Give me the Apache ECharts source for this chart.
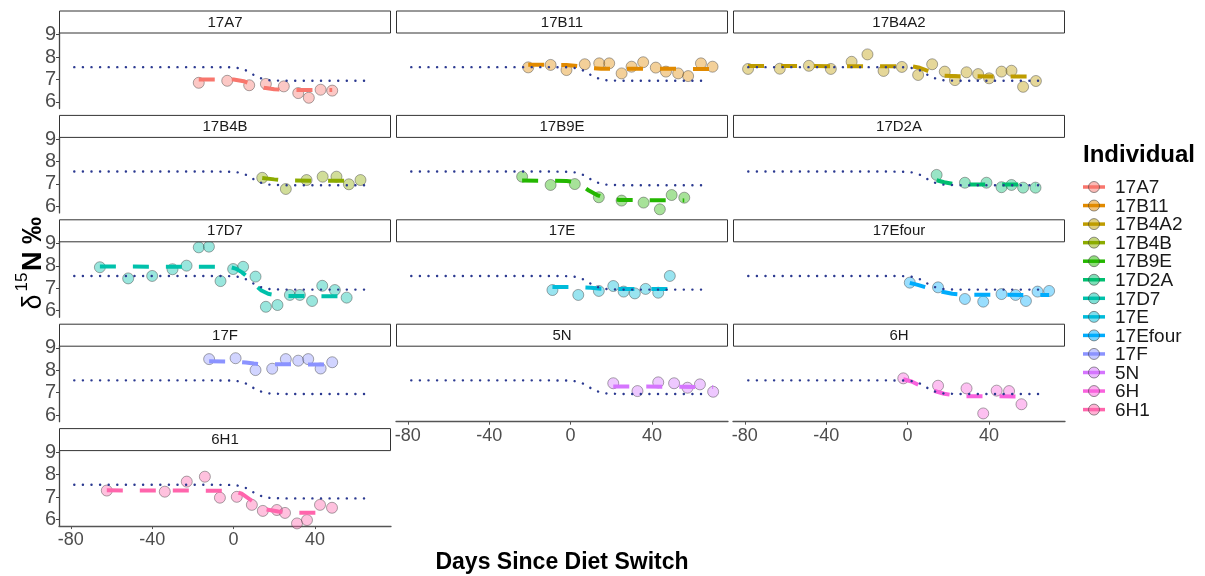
<!DOCTYPE html>
<html>
<head>
<meta charset="utf-8">
<script src="https://cdn.jsdelivr.net/npm/echarts@6/dist/echarts.min.js"></script>
<style>
  html, body { margin: 0; padding: 0; background: #ffffff; }
  #chart { width: 1205px; height: 576px; }
</style>
</head>
<body>
<div id="chart"></div>
<script>
// Individuals in facet order, with their palette (ggplot default hues)
const individuals = ['17A7', '17B11', '17B4A2', '17B4B', '17B9E', '17D2A', '17D7',
  '17E', '17Efour', '17F', '5N', '6H', '6H1'];
const palette = ['#F8766D', '#E18A00', '#BE9C00', '#8CAB00', '#24B700', '#00BE70', '#00C1AB',
  '#00BBDA', '#00ACFC', '#8B93FF', '#D575FE', '#F962DD', '#FF65AC'];

// Axis ticks
const xTicks = [-80, -40, 0, 40];
const yTicks = [6, 7, 8, 9];

// Population-level curve: [days since switch, d15N]
const popCurve = [[-78.3, 7.55], [-10, 7.55], [0, 7.54], [3, 7.50], [6, 7.41], [9, 7.25],
  [12, 7.10], [15, 7.00], [18, 6.96], [24, 6.94], [67.8, 6.94]];

// Observations per individual: [days since switch, d15N]
const pts_17A7 = [[-17.1, 6.85], [-3.1, 6.94], [7.7, 6.74], [15.9, 6.80], [24.7, 6.69],
  [31.8, 6.39], [37.0, 6.18], [42.8, 6.54], [48.5, 6.50]];
const pts_17B11 = [[-20.8, 7.54], [-9.8, 7.65], [-2.0, 7.42], [7.0, 7.68], [14.1, 7.72],
  [19.0, 7.72], [25.1, 7.27], [30.0, 7.57], [35.7, 7.77], [41.9, 7.53], [46.9, 7.35],
  [52.9, 7.27], [57.8, 7.15], [64.1, 7.72], [69.8, 7.57]];
const pts_17B4A2 = [[-78.4, 7.47], [-62.8, 7.48], [-48.5, 7.61], [-37.7, 7.47], [-27.5, 7.79],
  [-19.7, 8.12], [-11.8, 7.38], [-2.8, 7.56], [5.2, 7.20], [12.1, 7.68], [18.3, 7.35],
  [23.3, 6.97], [29.0, 7.32], [34.7, 7.24], [40.1, 7.05], [46.2, 7.35], [51.1, 7.39],
  [56.8, 6.67], [63.1, 6.93]];
const pts_17B4B = [[14.1, 7.27], [25.7, 6.77], [35.9, 7.17], [43.8, 7.32], [50.6, 7.32],
  [56.7, 6.98], [62.4, 7.17]];
const pts_17B9E = [[-23.8, 7.32], [-9.8, 6.95], [2.1, 6.99], [13.9, 6.40], [25.1, 6.25],
  [35.9, 6.16], [43.9, 5.86], [49.7, 6.50], [55.9, 6.38]];
const pts_17D2A = [[14.3, 7.40], [28.2, 7.05], [38.8, 7.05], [46.2, 6.85], [51.1, 6.95],
  [56.8, 6.83], [62.9, 6.83]];
const pts_17D7 = [[-65.7, 7.94], [-51.8, 7.44], [-40.0, 7.55], [-30.0, 7.85], [-23.1, 8.01],
  [-17.1, 8.83], [-12.1, 8.86], [-6.4, 7.32], [-0.2, 7.86], [4.7, 7.96], [10.8, 7.52],
  [15.9, 6.17], [21.6, 6.25], [27.7, 6.70], [32.6, 6.70], [38.6, 6.43], [43.6, 7.11],
  [49.8, 6.92], [55.6, 6.58]];
const pts_17E = [[-8.9, 6.92], [3.8, 6.70], [13.9, 6.88], [21.0, 7.10], [26.1, 6.85],
  [31.6, 6.77], [36.9, 6.97], [43.1, 6.80], [48.8, 7.55]];
const pts_17Efour = [[1.1, 7.25], [15.0, 7.04], [28.2, 6.52], [37.2, 6.40], [46.2, 6.74],
  [53.1, 6.70], [58.2, 6.43], [63.9, 6.85], [69.6, 6.88]];
const pts_17F = [[-12.0, 8.50], [1.0, 8.54], [10.8, 8.01], [19.0, 8.07], [25.7, 8.50],
  [31.8, 8.43], [36.7, 8.50], [42.8, 8.08], [48.5, 8.36]];
const pts_5N = [[21.0, 7.42], [32.9, 7.07], [43.1, 7.46], [50.9, 7.42], [57.5, 7.22],
  [63.6, 7.37], [70.1, 7.04]];
const pts_6H = [[-2.1, 7.64], [15.0, 7.31], [29.0, 7.19], [37.2, 6.07], [43.8, 7.09],
  [49.9, 7.07], [56.0, 6.48]];
const pts_6H1 = [[-62.3, 7.29], [-33.8, 7.24], [-23.0, 7.69], [-14.1, 7.91], [-6.7, 6.97],
  [1.6, 7.01], [9.0, 6.65], [14.4, 6.38], [21.3, 6.42], [25.3, 6.29], [31.2, 5.82],
  [36.1, 5.97], [42.5, 6.65], [48.4, 6.52]];

// Fitted individual curves: [days since switch, d15N]
const fit_17A7 = [[-17.1, 7.00], [0, 7.00], [5, 6.92], [10, 6.76], [15, 6.63], [20, 6.56],
  [30, 6.53], [48.5, 6.53]];
const fit_17B11 = [[-20.8, 7.66], [-2, 7.65], [5, 7.58], [10, 7.51], [15, 7.48], [69.8, 7.47]];
const fit_17B4A2 = [[-78.4, 7.60], [2, 7.59], [6, 7.52], [10, 7.38], [14, 7.25], [18, 7.17],
  [25, 7.14], [63.1, 7.13]];
const fit_17B4B = [[14.1, 7.26], [20, 7.20], [25, 7.15], [62.4, 7.13]];
const fit_17B9E = [[-23.8, 7.15], [-2, 7.13], [3, 7.07], [6, 6.90], [9, 6.70], [13, 6.50],
  [17, 6.37], [24, 6.28], [55.9, 6.26]];
const fit_17D2A = [[14.3, 7.16], [18, 7.07], [23, 6.99], [30, 6.97], [62.9, 6.97]];
const fit_17D7 = [[-65.7, 7.97], [-2, 7.96], [1, 7.88], [4, 7.72], [7.7, 7.44], [10, 7.20],
  [13.7, 6.90], [17, 6.75], [22, 6.67], [30, 6.65], [55.6, 6.64]];
const fit_17E = [[-8.9, 7.06], [3, 7.05], [10, 7.02], [15, 6.98], [20, 6.97], [48.8, 6.97]];
const fit_17Efour = [[1.1, 7.24], [5, 7.15], [9, 7.04], [13, 6.93], [17, 6.84], [22, 6.75],
  [28, 6.71], [69.6, 6.70]];
const fit_17F = [[-12.0, 8.40], [2, 8.38], [6, 8.35], [10, 8.30], [14, 8.27], [48.5, 8.26]];
const fit_5N = [[21.0, 7.28], [70.1, 7.25]];
const fit_6H = [[-2.1, 7.60], [2, 7.50], [6, 7.32], [10, 7.17], [14.6, 7.04], [18, 6.95],
  [22, 6.89], [28, 6.84], [56.0, 6.83]];
const fit_6H1 = [[-62.3, 7.30], [0, 7.28], [4, 7.15], [8, 6.90], [12, 6.62], [16, 6.45],
  [22, 6.35], [30, 6.30], [48.4, 6.30]];

const observations = [pts_17A7, pts_17B11, pts_17B4A2, pts_17B4B, pts_17B9E, pts_17D2A,
  pts_17D7, pts_17E, pts_17Efour, pts_17F, pts_5N, pts_6H, pts_6H1];
const fits = [fit_17A7, fit_17B11, fit_17B4A2, fit_17B4B, fit_17B9E, fit_17D2A, fit_17D7,
  fit_17E, fit_17Efour, fit_17F, fit_5N, fit_6H, fit_6H1];

// ---- layout of the facet grid (pixels) ----
const FONT = '"Liberation Sans", Arial, Helvetica, sans-serif';
const colLeft = [59, 396, 733];
const panelW = 332;
const stripTop0 = 10.5, rowPitch = 104.4, stripH = 22, plotH = 76;
const nCols = 3;
const lastRow = [4, 3, 3]; // bottom facet in each column carries the x axis

function rgba(hex, a) {
  const n = parseInt(hex.slice(1), 16);
  return 'rgba(' + ((n >> 16) & 255) + ',' + ((n >> 8) & 255) + ',' + (n & 255) + ',' + a + ')';
}

const grids = [], xAxes = [], yAxes = [], series = [], graphics = [];

individuals.forEach((name, i) => {
  const row = Math.floor(i / nCols), col = i % nCols;
  const stripTop = stripTop0 + row * rowPitch;
  const plotTop = stripTop + stripH;
  const showX = row === lastRow[col];
  const showY = col === 0;

  grids.push({ left: colLeft[col], top: plotTop, width: panelW, height: plotH, containLabel: false });

  xAxes.push({
    type: 'value', gridIndex: i, min: -85.8, max: 77.4,
    splitLine: { show: false },
    axisLine: { show: showX, onZero: false, lineStyle: { color: '#555', width: 1.3 } },
    axisTick: { show: showX, length: 3, customValues: xTicks, lineStyle: { color: '#555' } },
    axisLabel: { show: showX, customValues: xTicks, color: '#4d4d4d', fontSize: 18,
      fontFamily: FONT, margin: 5 }
  });
  yAxes.push({
    type: 'value', gridIndex: i, min: 5.7, max: 9.1,
    splitLine: { show: false },
    axisLine: { show: showY, onZero: false, lineStyle: { color: '#444', width: 1.3 } },
    axisTick: { show: showY, length: 3, customValues: yTicks, lineStyle: { color: '#444' } },
    axisLabel: { show: showY, customValues: yTicks, color: '#4d4d4d', fontSize: 20,
      fontFamily: FONT, margin: 3 }
  });

  const c = palette[i];
  series.push({
    type: 'scatter', name: name, xAxisIndex: i, yAxisIndex: i,
    data: observations[i], symbol: 'circle', symbolSize: 11, silent: true, z: 2,
    itemStyle: { color: rgba(c, 0.5), borderColor: 'rgba(60,60,60,0.55)', borderWidth: 1 }
  });
  series.push({
    type: 'line', name: name + ' fit', xAxisIndex: i, yAxisIndex: i,
    data: fits[i], showSymbol: false, symbol: 'none', silent: true, z: 3,
    lineStyle: { color: c, width: 4, type: [16, 17], cap: 'butt' }
  });
  series.push({
    type: 'line', name: 'population', xAxisIndex: i, yAxisIndex: i,
    data: popCurve, showSymbol: false, symbol: 'none', silent: true, z: 4,
    lineStyle: { color: '#2B3990', width: 2.4, type: [0.1, 8.5], cap: 'round' }
  });

  // facet strip
  graphics.push({
    type: 'rect', silent: true, z: 10,
    shape: { x: colLeft[col] + 0.5, y: stripTop + 0.5, width: panelW - 1, height: stripH },
    style: { fill: '#ffffff', stroke: '#333333', lineWidth: 1 }
  });
  graphics.push({
    type: 'text', silent: true, z: 11,
    x: colLeft[col] + panelW / 2, y: stripTop + stripH / 2 + 1,
    style: { text: name, fill: '#1a1a1a', font: '15px ' + FONT, align: 'center', verticalAlign: 'middle' }
  });
});

// axis titles
graphics.push({
  type: 'text', silent: true, x: 562, y: 563,
  style: { text: 'Days Since Diet Switch', fill: '#000', font: 'bold 23px ' + FONT,
    align: 'center', verticalAlign: 'middle' }
});
graphics.push({
  type: 'text', silent: true, x: 34, y: 302, rotation: Math.PI / 2,
  style: { text: 'δ', fill: '#000', font: '27px ' + FONT, align: 'center', verticalAlign: 'middle' }
});
graphics.push({
  type: 'text', silent: true, x: 22, y: 282, rotation: Math.PI / 2,
  style: { text: '15', fill: '#000', font: '17px ' + FONT, align: 'center', verticalAlign: 'middle' }
});
graphics.push({
  type: 'text', silent: true, x: 34, y: 244, rotation: Math.PI / 2,
  style: { text: 'N ‰', fill: '#000', font: 'bold 27px ' + FONT, align: 'center', verticalAlign: 'middle' }
});

// legend
graphics.push({
  type: 'text', silent: true, x: 1083, y: 155,
  style: { text: 'Individual', fill: '#000', font: 'bold 24px ' + FONT, align: 'left', verticalAlign: 'middle' }
});
individuals.forEach((name, i) => {
  const y = 187 + 18.55 * i;
  graphics.push({
    type: 'line', silent: true,
    shape: { x1: 1083, y1: y, x2: 1105, y2: y },
    style: { stroke: palette[i], lineWidth: 3.5 }
  });
  graphics.push({
    type: 'circle', silent: true,
    shape: { cx: 1094, cy: y, r: 5.5 },
    style: { fill: rgba(palette[i], 0.5), stroke: 'rgba(60,60,60,0.55)', lineWidth: 1 }
  });
  graphics.push({
    type: 'text', silent: true, x: 1115, y: y + 1,
    style: { text: name, fill: '#1a1a1a', font: '19px ' + FONT, align: 'left', verticalAlign: 'middle' }
  });
});

const chart = echarts.init(document.getElementById('chart'), null, { renderer: 'canvas' });
chart.setOption({
  backgroundColor: '#ffffff',
  animation: false,
  grid: grids,
  xAxis: xAxes,
  yAxis: yAxes,
  series: series,
  graphic: { elements: graphics }
});
</script>
</body>
</html>
